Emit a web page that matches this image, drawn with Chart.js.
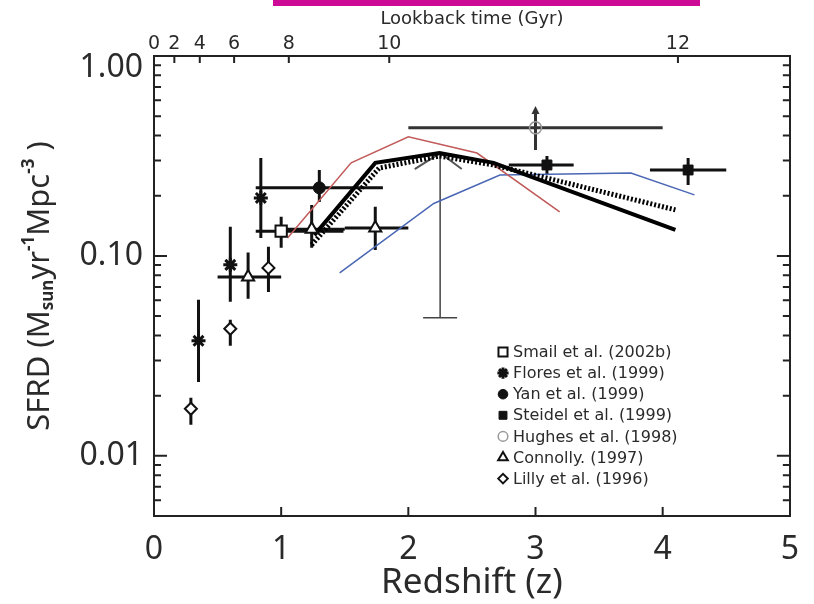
<!DOCTYPE html>
<html>
<head>
<meta charset="utf-8">
<script src="https://cdn.jsdelivr.net/npm/chart.js@4.4.1/dist/chart.umd.min.js"></script>
<style>
  html, body { margin: 0; padding: 0; background: #fff; }
  #wrap { position: relative; width: 814px; height: 604px; }
  #bar { position: absolute; left: 273px; top: 0; width: 427px; height: 6px; background: #cc0a96; }
  canvas { position: absolute; left: 0; top: 0; }
</style>
</head>
<body>
<div id="wrap">
  <canvas id="sfrd" width="814" height="604"></canvas>
  <div id="bar"></div>
</div>
<script>
const FONT_NUM = '"Noto Sans", "DejaVu Sans", sans-serif';
const FONT_TXT = '"DejaVu Sans", sans-serif';
const INK = '#2a2a2a';

// axes
const zTicks = [0, 1, 2, 3, 4, 5];
const lookbackGyr = [0, 2, 4, 6, 8, 10, 12];
const lookbackZ = [0, 0.16, 0.36, 0.63, 1.06, 1.85, 4.12];
const sfrdTicks = [0.005, 0.006, 0.007, 0.008, 0.009,
  0.01, 0.02, 0.03, 0.04, 0.05, 0.06, 0.07, 0.08, 0.09,
  0.1, 0.2, 0.3, 0.4, 0.5, 0.6, 0.7, 0.8, 0.9, 1];
const sfrdMajor = [0.01, 0.1, 1];
const sfrdMajorLabels = ['0.01', '0.10', '1.00'];

// Smail et al. (2002b)
const smailZ = [1.0];
const smailSfrd = [0.133];
const smailLo = [0.110];
const smailHi = [0.157];
const smailZlo = [0.80];
const smailZhi = [1.49];

// Flores et al. (1999)
const floresZ = [0.35, 0.60, 0.84];
const floresSfrd = [0.0376, 0.0902, 0.195];
const floresLo = [0.0234, 0.0589, 0.123];
const floresHi = [0.0603, 0.140, 0.309];

// Yan et al. (1999)
const yanZ = [1.30];
const yanSfrd = [0.219];
const yanLo = [0.186];
const yanHi = [0.269];
const yanZlo = [0.80];
const yanZhi = [1.80];

// Steidel et al. (1999)
const steidelZ = [3.09, 4.20];
const steidelSfrd = [0.285, 0.269];
const steidelLo = [0.254, 0.226];
const steidelHi = [0.316, 0.309];
const steidelZlo = [2.79, 3.90];
const steidelZhi = [3.30, 4.50];

// Hughes et al. (1998) - lower limit
const hughesZ = [3.0];
const hughesSfrd = [0.437];
const hughesLo = [0.339];
const hughesHi = [0.556];
const hughesZlo = [2.0];
const hughesZhi = [4.0];

// Connolly (1997)
const connollyZ = [0.74, 1.24, 1.74];
const connollySfrd = [0.0785, 0.136, 0.138];
const connollyLo = [0.0610, 0.110, 0.107];
const connollyHi = [0.104, 0.180, 0.176];
const connollyZlo = [0.5, 1.0, 1.5];
const connollyZhi = [1.0, 1.5, 2.0];

// Lilly et al. (1996)
const lillyZ = [0.29, 0.60, 0.90];
const lillySfrd = [0.0172, 0.0432, 0.0871];
const lillyLo = [0.0143, 0.0355, 0.066];
const lillyHi = [0.0195, 0.0479, 0.111];

// thin error bar at z~2.25
const thinBarZ = [2.25];
const thinBarTop = [0.327];
const thinBarBottom = [0.049];
const caretZ = [2.05, 2.25, 2.42];
const caretSfrd = [0.272, 0.327, 0.272];

// model curves
const solidZ = [1.26, 1.74, 2.245, 2.67, 4.10];
const solidSfrd = [0.127, 0.292, 0.327, 0.292, 0.135];
const dottedZ = [1.24, 1.77, 2.245, 2.67, 4.10];
const dottedSfrd = [0.1135, 0.275, 0.316, 0.285, 0.170];
const redZ = [1.05, 1.55, 2.0, 2.54, 3.19];
const redSfrd = [0.123, 0.292, 0.394, 0.327, 0.166];
const blueZ = [1.46, 2.2, 2.72, 3.75, 4.25];
const blueSfrd = [0.0822, 0.183, 0.254, 0.260, 0.202];

const surveys = [
  { label: 'Smail et al. (2002b)', z: smailZ, v: smailSfrd, lo: smailLo, hi: smailHi, zlo: smailZlo, zhi: smailZhi,
    style: 'rect', radius: 8, fill: '#fff', stroke: '#111', bw: 2, bar: '#111' },
  { label: 'Flores et al. (1999)', z: floresZ, v: floresSfrd, lo: floresLo, hi: floresHi,
    style: 'star', radius: 7, fill: '#111', stroke: '#111', bw: 3, bar: '#111' },
  { label: 'Yan et al. (1999)', z: yanZ, v: yanSfrd, lo: yanLo, hi: yanHi, zlo: yanZlo, zhi: yanZhi,
    style: 'circle', radius: 6, fill: '#111', stroke: '#111', bw: 1, bar: '#111' },
  { label: 'Steidel et al. (1999)', z: steidelZ, v: steidelSfrd, lo: steidelLo, hi: steidelHi, zlo: steidelZlo, zhi: steidelZhi,
    style: 'rect', radius: 7, fill: '#111', stroke: '#111', bw: 1, bar: '#111' },
  { label: 'Hughes et al. (1998)', z: hughesZ, v: hughesSfrd, lo: hughesLo, hi: hughesHi, zlo: hughesZlo, zhi: hughesZhi,
    style: 'circle', radius: 6, fill: 'rgba(0,0,0,0)', stroke: '#999', bw: 1.5, bar: '#333', limit: true },
  { label: 'Connolly. (1997)', z: connollyZ, v: connollySfrd, lo: connollyLo, hi: connollyHi, zlo: connollyZlo, zhi: connollyZhi,
    style: 'triangle', radius: 7, fill: '#fff', stroke: '#111', bw: 2, bar: '#111' },
  { label: 'Lilly et al. (1996)', z: lillyZ, v: lillySfrd, lo: lillyLo, hi: lillyHi,
    style: 'rectRot', radius: 6, fill: '#fff', stroke: '#111', bw: 2, bar: '#111' }
];

const toPoints = (xs, ys) => xs.map((x, i) => ({ x: x, y: ys[i] }));

const markerSets = surveys.map(s => ({
  label: s.label,
  data: toPoints(s.z, s.v),
  showLine: false,
  pointStyle: s.style,
  pointRadius: s.radius,
  pointBackgroundColor: s.fill,
  pointBorderColor: s.stroke,
  pointBorderWidth: s.bw,
  order: 1
}));

const lineSet = (label, xs, ys, color, width, dash, order) => ({
  label: label,
  data: toPoints(xs, ys),
  showLine: true,
  pointRadius: 0,
  borderColor: color,
  borderWidth: width,
  borderDash: dash,
  tension: 0,
  order: order
});

const errorBars = {
  id: 'errorBars',
  beforeDatasetsDraw(chart) {
    const { ctx, chartArea: a } = chart;
    const x = chart.scales.x, y = chart.scales.y;
    ctx.save();
    ctx.beginPath();
    ctx.rect(a.left, a.top, a.right - a.left, a.bottom - a.top);
    ctx.clip();
    surveys.forEach(s => {
      ctx.strokeStyle = s.bar;
      ctx.fillStyle = s.bar;
      ctx.lineWidth = 3;
      s.z.forEach((zv, i) => {
        const px = x.getPixelForValue(zv);
        const py = y.getPixelForValue(s.v[i]);
        const top = y.getPixelForValue(s.hi[i]);
        ctx.beginPath();
        ctx.moveTo(px, y.getPixelForValue(s.lo[i]));
        ctx.lineTo(px, s.limit ? top + 5 : top);
        if (s.zlo) {
          ctx.moveTo(x.getPixelForValue(s.zlo[i]), py);
          ctx.lineTo(x.getPixelForValue(s.zhi[i]), py);
        }
        ctx.stroke();
        if (s.limit) {
          ctx.beginPath();
          ctx.moveTo(px, top - 1);
          ctx.lineTo(px - 4, top + 7);
          ctx.lineTo(px + 4, top + 7);
          ctx.closePath();
          ctx.fill();
        }
      });
    });
    ctx.strokeStyle = '#444';
    ctx.lineWidth = 1.5;
    thinBarZ.forEach((zv, i) => {
      const px = x.getPixelForValue(zv);
      const pb = y.getPixelForValue(thinBarBottom[i]);
      ctx.beginPath();
      ctx.moveTo(px, y.getPixelForValue(thinBarTop[i]));
      ctx.lineTo(px, pb);
      ctx.moveTo(px - 17, pb);
      ctx.lineTo(px + 17, pb);
      ctx.stroke();
    });
    ctx.restore();
  }
};

const insideTicks = {
  id: 'insideTicks',
  afterDraw(chart) {
    const { ctx, chartArea: a } = chart;
    const { x, x2, y } = chart.scales;
    ctx.save();
    ctx.strokeStyle = '#222';
    ctx.lineWidth = 2;
    ctx.beginPath();
    y.ticks.forEach(t => {
      const p = y.getPixelForValue(t.value);
      const len = sfrdMajor.includes(t.value) ? 13 : 7;
      ctx.moveTo(a.left, p); ctx.lineTo(a.left + len, p);
      ctx.moveTo(a.right, p); ctx.lineTo(a.right - len, p);
    });
    x.ticks.forEach(t => {
      if (t.value <= 0 || t.value >= 5) return;
      const p = x.getPixelForValue(t.value);
      ctx.moveTo(p, a.bottom); ctx.lineTo(p, a.bottom - 9);
    });
    x2.ticks.forEach(t => {
      if (t.value <= 0) return;
      const p = x2.getPixelForValue(t.value);
      ctx.moveTo(p, a.top); ctx.lineTo(p, a.top + 7);
    });
    ctx.stroke();
    ctx.restore();
  }
};

const legendBox = {
  id: 'legendBox',
  afterDraw(chart) {
    const ctx = chart.ctx;
    ctx.save();
    ctx.font = '16px ' + FONT_TXT;
    ctx.textBaseline = 'middle';
    ctx.textAlign = 'left';
    surveys.forEach((s, i) => {
      const cy = 352 + i * 21.1;
      ctx.fillStyle = s.fill;
      ctx.strokeStyle = s.stroke;
      ctx.lineWidth = s.bw;
      Chart.helpers.drawPoint(ctx, { pointStyle: s.style, radius: s.radius * 0.8, borderWidth: s.bw, rotation: 0 }, 503, cy);
      ctx.fillStyle = INK;
      ctx.fillText(s.label, 513, cy + 1);
    });
    ctx.restore();
  }
};

const yTitleParts = [['SFRD (M', 0], ['sun', 1], ['yr', 0], ['-1', -1], ['Mpc', 0], ['-3', -1], [' )', 0]];
const yTitle = {
  id: 'yTitle',
  afterDraw(chart) {
    const ctx = chart.ctx;
    const big = '31px ' + FONT_NUM, small = 'bold 17px ' + FONT_NUM;
    ctx.save();
    let total = 0;
    yTitleParts.forEach(p => { ctx.font = p[1] ? small : big; total += ctx.measureText(p[0]).width; });
    ctx.translate(40, 286);
    ctx.rotate(-Math.PI / 2);
    ctx.fillStyle = INK;
    ctx.textBaseline = 'middle';
    ctx.textAlign = 'left';
    let cx = -total / 2;
    yTitleParts.forEach(p => {
      ctx.font = p[1] ? small : big;
      ctx.fillText(p[0], cx, p[1] === 1 ? 8 : (p[1] === -1 ? -11 : 0));
      cx += ctx.measureText(p[0]).width;
    });
    ctx.restore();
  }
};

new Chart(document.getElementById('sfrd'), {
  type: 'scatter',
  data: {
    datasets: markerSets.concat([
      lineSet('solid', solidZ, solidSfrd, '#000', 4, [], 2),
      lineSet('dotted', dottedZ, dottedSfrd, '#000', 5, [2, 2], 2),
      lineSet('red', redZ, redSfrd, '#c25a5a', 1.5, [], 3),
      lineSet('blue', blueZ, blueSfrd, '#4a67b5', 1.5, [], 3),
      lineSet('caret', caretZ, caretSfrd, '#555', 2, [], 4)
    ])
  },
  options: {
    responsive: false,
    animation: false,
    layout: { padding: 0 },
    plugins: { legend: { display: false }, tooltip: { enabled: false } },
    scales: {
      x: {
        type: 'linear', position: 'bottom', min: 0, max: 5,
        afterBuildTicks: s => { s.ticks = zTicks.map(v => ({ value: v })); },
        grid: { display: false, drawTicks: false },
        border: { display: true, color: '#222', width: 2 },
        ticks: { autoSkip: false, maxRotation: 0, padding: 15, color: INK, font: { family: FONT_NUM, size: 32 } },
        title: { display: true, text: 'Redshift (z)', color: INK, font: { family: FONT_NUM, size: 35 }, padding: { top: 0, bottom: 0 } },
        afterFit: s => { s.height = 88; }
      },
      x2: {
        type: 'linear', position: 'top', min: 0, max: 5,
        afterBuildTicks: s => { s.ticks = lookbackZ.map(v => ({ value: v })); },
        grid: { display: false, drawTicks: false },
        border: { display: true, color: '#222', width: 2 },
        ticks: { autoSkip: false, maxRotation: 0, padding: 1, color: INK, font: { family: FONT_TXT, size: 19 },
          callback: (v, i) => String(lookbackGyr[i]) },
        title: { display: true, text: 'Lookback time (Gyr)', color: INK, font: { family: FONT_TXT, size: 18 }, padding: { top: 9, bottom: 0 } },
        afterFit: s => { s.height = 56; }
      },
      y: {
        type: 'logarithmic', position: 'left', min: 0.005, max: 1,
        afterBuildTicks: s => { s.ticks = sfrdTicks.map(v => ({ value: v })); },
        grid: { display: false, drawTicks: false },
        border: { display: true, color: '#222', width: 2 },
        ticks: { autoSkip: false, padding: 11, color: INK, font: { family: FONT_NUM, size: 32, lineHeight: 0.75 },
          callback: v => {
            const k = sfrdMajor.indexOf(v);
            if (k < 0) return '';
            return k === sfrdMajor.length - 1 ? ['', sfrdMajorLabels[k]] : sfrdMajorLabels[k];
          } },
        afterFit: s => { s.width = 154; }
      },
      y2: {
        type: 'logarithmic', position: 'right', min: 0.005, max: 1,
        grid: { display: false, drawTicks: false },
        border: { display: true, color: '#222', width: 2 },
        ticks: { display: false },
        afterFit: s => { s.width = 12; }
      }
    }
  },
  plugins: [errorBars, insideTicks, legendBox, yTitle]
});
</script>
</body>
</html>
